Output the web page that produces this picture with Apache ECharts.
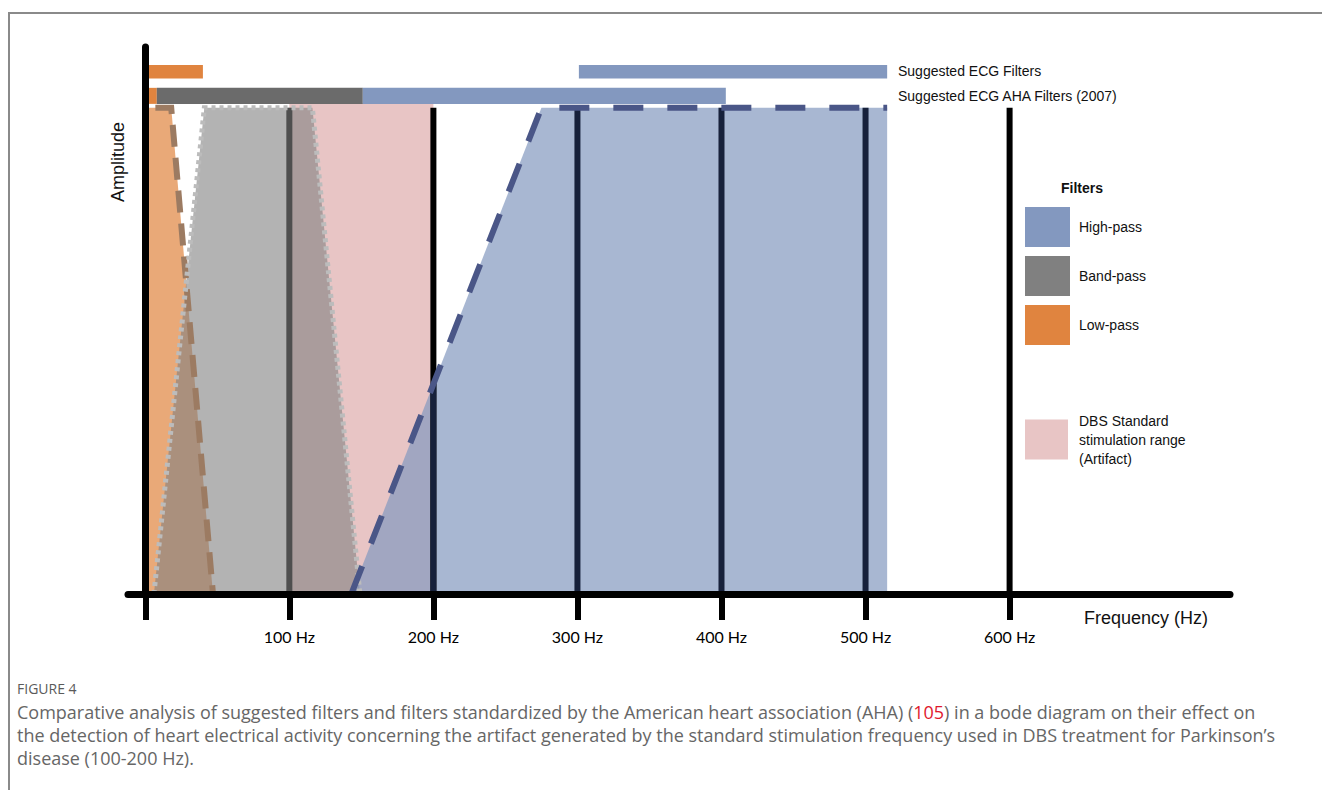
<!DOCTYPE html>
<html><head><meta charset="utf-8">
<script src="https://cdn.jsdelivr.net/npm/echarts@6/dist/echarts.min.js"></script>
<style>html,body{margin:0;padding:0;background:#fff}#c{width:1322px;height:790px}</style>
</head><body><div id="c"></div>
<script>
// ---------- data (frequencies in Hz, amplitude in arbitrary units 0..100) ----------
const freqTicks = [0, 100, 200, 300, 400, 500, 600];
const freqLabelValues = [100, 200, 300, 400, 500, 600];
const gridLineFreqs = [100, 200, 300, 400, 500, 600];
const lowPassShape = [[2, 100], [18, 100], [47, 0], [2, 0]];
const lowPassEdge = [[7, 100], [18, 100], [47, 0]];
const bandPassShape = [[41, 100], [116, 100], [149, 0], [6, 0]];
const bandPassEdge = [[6, 0], [41, 100], [116, 100], [149, 0]];
const highPassShape = [[143, 0], [275, 100], [515, 100], [515, 0]];
const highPassEdge = [[143, 0], [275, 100], [515, 100]];
const dbsRange = [100, 200];
const dbsTop = 101;
const gridLineTop = 100;
const suggestedBars = [['Low-pass', 2, 40], ['High-pass', 301, 515]];
const ahaBars = [['Low-pass', 2, 8], ['Band-pass', 8, 151], ['High-pass', 151, 403]];
const rowLabels = ['Suggested ECG Filters', 'Suggested ECG AHA Filters (2007)'];
const legendNames = ['High-pass', 'Band-pass', 'Low-pass'];
const dbsName = 'DBS Standard\nstimulation range\n(Artifact)';

// ---------- styles ----------
const FILL = { 'High-pass': '#8398bf', 'Band-pass': '#808080', 'Low-pass': '#e0843f' };
const BAR = { 'High-pass': '#8398bf', 'Band-pass': '#6b6b6b', 'Low-pass': '#e0843f' };
const PINK = '#e8c5c5';
const ROW_SUGGESTED = [106.0, 108.8];
const ROW_AHA = [100.8, 104.1];
const SANS = 'Liberation Sans, Arial, sans-serif';
const CAP = '18px Open Sans, sans-serif';

function polygonSeries(name, pts, color, opacity, z) {
  return {
    type: 'custom', name, z, silent: true, clip: false,
    coordinateSystem: 'cartesian2d',
    itemStyle: { color },
    data: [pts[0]],
    renderItem: (params, api) => ({
      type: 'polygon',
      shape: { points: pts.map(p => api.coord(p)) },
      style: { fill: color, opacity }
    })
  };
}
function edgeSeries(pts, stroke, width, dash, z) {
  return {
    type: 'custom', z, silent: true, clip: false,
    coordinateSystem: 'cartesian2d',
    data: [pts[0]],
    renderItem: (params, api) => ({
      type: 'polyline',
      shape: { points: pts.map(p => api.coord(p)) },
      style: { stroke, lineWidth: width, lineDash: dash, fill: null, lineCap: 'butt', lineJoin: 'miter' }
    })
  };
}
function barSeries(bars, row, z) {
  return {
    type: 'custom', z, silent: true, clip: false,
    coordinateSystem: 'cartesian2d',
    data: bars.map(b => [b[1], b[2]]),
    renderItem: (params, api) => {
      const a = api.coord([api.value(0), row[1]]);
      const b = api.coord([api.value(1), row[0]]);
      const f = bars[params.dataIndex][0];
      return { type: 'rect', shape: { x: a[0], y: a[1], width: b[0] - a[0], height: b[1] - a[1] }, style: { fill: BAR[f] } };
    }
  };
}
// amplitude of an edge polyline at a given frequency (to colour the part of a line under the blue area)
function edgeAt(edge, f) {
  for (let i = 0; i < edge.length - 1; i++) {
    const [x0, y0] = edge[i], [x1, y1] = edge[i + 1];
    if (f >= x0 && f <= x1) return y0 + (y1 - y0) * (f - x0) / (x1 - x0);
  }
  return null;
}
const LINE_COLOR = { 100: '#4f4f4f', 200: '#000', 300: '#17213b', 400: '#17213b', 500: '#17213b', 600: '#000' };

const chart = echarts.init(document.getElementById('c'), null, { renderer: 'svg' });
chart.setOption({
  animation: false,
  backgroundColor: '#fff',
  grid: { left: 128, right: 92, top: 47, bottom: 196 },
  xAxis: {
    type: 'value', min: -12, max: 753, z: 10,
    axisLine: { show: true, onZero: false, lineStyle: { color: '#000', width: 7 } },
    axisTick: { show: true, customValues: freqTicks, length: 26, lineStyle: { color: '#000', width: 6 } },
    axisLabel: { customValues: freqLabelValues, formatter: '{value} Hz', margin: 34, fontFamily: 'Lato, sans-serif', fontSize: 16, color: '#000' },
    splitLine: { show: false }
  },
  yAxis: {
    type: 'value', min: 0, max: 112.5, z: 10,
    axisLine: { show: true, onZero: true, lineStyle: { color: '#000', width: 7 } },
    axisTick: { show: false }, axisLabel: { show: false }, splitLine: { show: false }
  },
  legend: [
    {
      orient: 'vertical', left: 1025, top: 207, padding: 0, itemWidth: 45, itemHeight: 40, itemGap: 9,
      icon: 'rect', selectedMode: false,
      textStyle: { fontFamily: SANS, fontSize: 14, color: '#111', padding: [0, 0, 0, 4] },
      data: legendNames.map(n => ({ name: n, itemStyle: { color: FILL[n], opacity: 1 } }))
    },
    {
      orient: 'vertical', left: 1025, top: 411, padding: 0, itemWidth: 43, itemHeight: 40,
      icon: 'rect', selectedMode: false,
      textStyle: { fontFamily: SANS, fontSize: 14, color: '#111', lineHeight: 19, padding: [0, 0, 0, 6] },
      data: [{ name: dbsName, itemStyle: { color: PINK, opacity: 1 } }]
    }
  ],
  series: [
    {
      type: 'custom', name: dbsName, z: 1, silent: true, clip: false,
      coordinateSystem: 'cartesian2d', itemStyle: { color: PINK },
      data: [[dbsRange[0], 0]],
      renderItem: (params, api) => {
        const a = api.coord([dbsRange[0], dbsTop]);
        const b = api.coord([dbsRange[1], 0]);
        return { type: 'rect', shape: { x: a[0], y: a[1], width: b[0] - a[0], height: b[1] - a[1] }, style: { fill: PINK } };
      }
    },
    polygonSeries('Low-pass', lowPassShape, FILL['Low-pass'], 0.7, 2),
    polygonSeries('Band-pass', bandPassShape, FILL['Band-pass'], 0.6, 3),
    polygonSeries('High-pass', highPassShape, FILL['High-pass'], 0.7, 4),
    {
      type: 'custom', z: 5, silent: true, clip: false,
      coordinateSystem: 'cartesian2d',
      data: gridLineFreqs.map(f => [f, 0]),
      renderItem: (params, api) => {
        const f = api.value(0);
        const p0 = api.coord([f, 0]);
        const p1 = api.coord([f, gridLineTop]);
        const children = [{ type: 'line', shape: { x1: p0[0], y1: p0[1], x2: p1[0], y2: p1[1] }, style: { stroke: LINE_COLOR[f], lineWidth: 6 } }];
        if (f === 200) {
          const h = edgeAt(highPassEdge, f);
          if (h !== null) {
            const ph = api.coord([f, h]);
            children.push({ type: 'line', shape: { x1: p0[0], y1: p0[1], x2: ph[0], y2: ph[1] }, style: { stroke: '#17213b', lineWidth: 6 } });
          }
        }
        return { type: 'group', children };
      }
    },
    edgeSeries(lowPassEdge, '#9c7b62', 6, [22, 11], 6),
    edgeSeries(bandPassEdge, '#bcbcbc', 5, [4, 4], 6),
    edgeSeries(highPassEdge, '#4a5687', 6, [30, 24], 7),
    barSeries(suggestedBars, ROW_SUGGESTED, 8),
    barSeries(ahaBars, ROW_AHA, 8)
  ],
  graphic: [
    { type: 'polyline', shape: { points: [[9, 790], [9, 13], [1322, 13]] }, style: { stroke: '#8a8a8a', lineWidth: 2, fill: null } },
    { type: 'text', x: 118, y: 162, rotation: Math.PI / 2, style: { text: 'Amplitude', x: 0, y: 0, textAlign: 'center', textVerticalAlign: 'middle', font: '18px ' + SANS, fill: '#111' } },
    { type: 'text', style: { text: 'Frequency (Hz)', x: 1208, y: 618, textAlign: 'right', textVerticalAlign: 'middle', font: '18px ' + SANS, fill: '#111' } },
    { type: 'text', style: { text: rowLabels[0], x: 898, y: 71, textAlign: 'left', textVerticalAlign: 'middle', font: '14px ' + SANS, fill: '#111' } },
    { type: 'text', style: { text: rowLabels[1], x: 898, y: 96, textAlign: 'left', textVerticalAlign: 'middle', font: '14px ' + SANS, fill: '#111' } },
    { type: 'text', style: { text: 'Filters', x: 1061, y: 188, textAlign: 'left', textVerticalAlign: 'middle', font: 'bold 14px ' + SANS, fill: '#111' } },
    { type: 'text', style: { text: 'FIGURE 4', x: 17, y: 688, textAlign: 'left', textVerticalAlign: 'middle', font: '14px Open Sans, sans-serif', fill: '#5a5a5a' } },
    { type: 'text', style: {
        text: 'Comparative analysis of suggested filters and filters standardized by the American heart association (AHA) ({r|105}) in a bode diagram on their effect on',
        x: 17, y: 712, textAlign: 'left', textVerticalAlign: 'middle', font: CAP, fill: '#666',
        rich: { r: { fill: '#e0182d', font: CAP } } } },
    { type: 'text', style: { text: 'the detection of heart electrical activity concerning the artifact generated by the standard stimulation frequency used in DBS treatment for Parkinson\u2019s',
        x: 17, y: 735, textAlign: 'left', textVerticalAlign: 'middle', font: CAP, fill: '#666' } },
    { type: 'text', style: { text: 'disease (100-200 Hz).', x: 17, y: 758, textAlign: 'left', textVerticalAlign: 'middle', font: CAP, fill: '#666' } }
  ]
});
</script></body></html>
